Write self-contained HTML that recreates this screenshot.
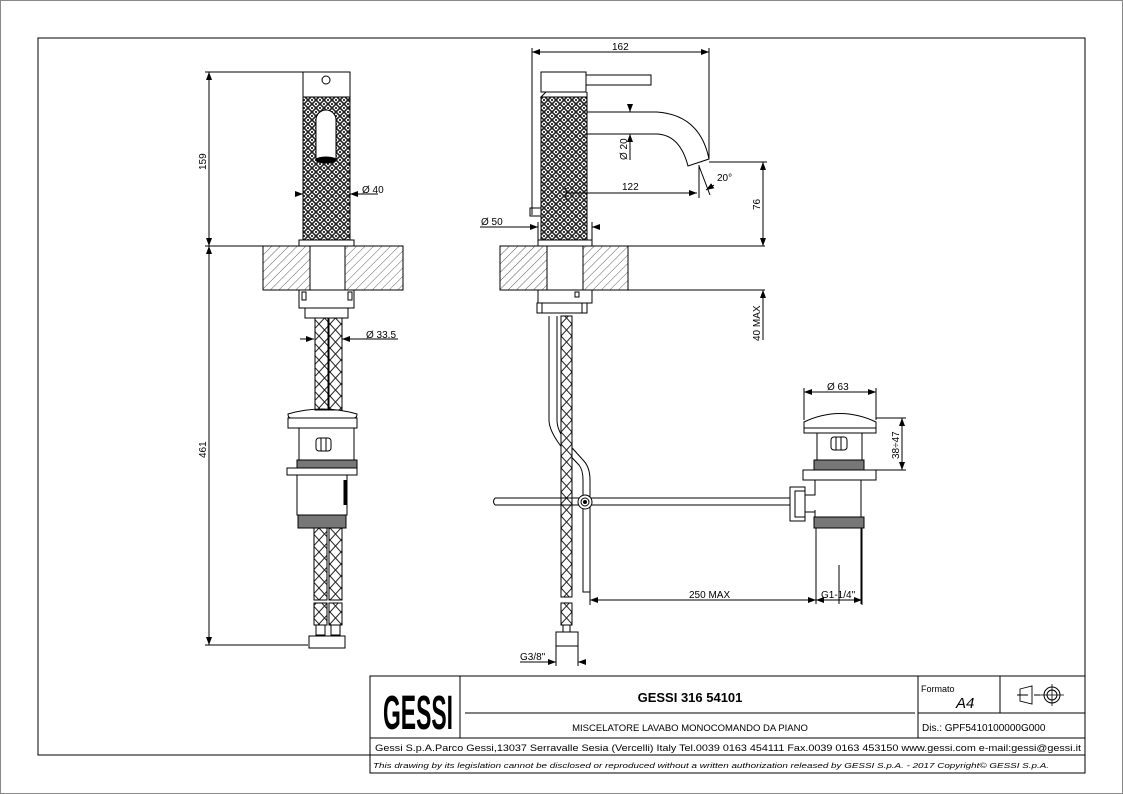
<!DOCTYPE html>
<html><head><meta charset="utf-8"><style>
html,body{margin:0;padding:0;background:#fff;}
svg{display:block;font-family:"Liberation Sans",sans-serif;}
</style></head><body>
<svg width="1123" height="794" viewBox="0 0 1123 794" xmlns="http://www.w3.org/2000/svg">
<defs>
<pattern id="knurl" width="8" height="8" patternUnits="userSpaceOnUse">
<rect width="8" height="8" fill="#fff"/>
<path d="M0 0 L8 8 M8 0 L0 8 M-1 7 L1 9 M7 -1 L9 1" stroke="#222" stroke-width="1.6"/>
<circle cx="4" cy="0" r="1.1" fill="#222"/><circle cx="4" cy="8" r="1.1" fill="#222"/>
<circle cx="0" cy="4" r="1.1" fill="#222"/><circle cx="8" cy="4" r="1.1" fill="#222"/>
</pattern>
<pattern id="hatch" width="6" height="6" patternUnits="userSpaceOnUse" patternTransform="rotate(45)">
<rect width="6" height="6" fill="#fff"/><line x1="0" y1="0" x2="0" y2="6" stroke="#333" stroke-width="0.8"/>
</pattern>
<pattern id="braid" width="11" height="12" patternUnits="userSpaceOnUse">
<rect width="11" height="12" fill="#fff"/><path d="M0 0 L11 12 M11 0 L0 12" stroke="#222" stroke-width="1"/>
</pattern>
<marker id="ar" markerWidth="8" markerHeight="6" refX="8" refY="3" orient="auto-start-reverse" markerUnits="userSpaceOnUse"><path d="M0 0 L8 3 L0 6Z" fill="#000"/></marker>
</defs>
<g fill="none" stroke="#000" stroke-width="1">
<rect x="0.5" y="0.5" width="1122" height="793" stroke="#888"/>
<polyline points="370,755 38,755 38,38 1085,38 1085,773 370,773 370,676 1085,676"/>
<line x1="370" y1="738" x2="1085" y2="738"/>
<line x1="370" y1="755" x2="1085" y2="755"/>
<line x1="460" y1="676" x2="460" y2="738"/>
<line x1="918" y1="676" x2="918" y2="738"/>
<line x1="1000" y1="676" x2="1000" y2="713"/>
<line x1="918" y1="713" x2="1085" y2="713"/>
<line x1="465" y1="713" x2="915" y2="713"/>
<path d="M1017 695 H1028 M1020 689 L1032 686 V704 L1020 701Z M1034 695 H1040" stroke-width="0.9"/>
<circle cx="1052" cy="695" r="8"/><circle cx="1052" cy="695" r="5"/>
<path d="M1040 695 H1064 M1052 684 V706" stroke-width="0.8"/>

<!-- LEFT VIEW -->
<rect x="303" y="72" width="47" height="25"/>
<circle cx="326" cy="80" r="4"/>
<rect x="303" y="97" width="47" height="143" fill="url(#knurl)"/>
<path d="M316 160 V120 a10 10 0 0 1 20 0 V160" fill="#fff"/>
<ellipse cx="326" cy="160" rx="10" ry="3" fill="#000"/>
<rect x="299" y="240" width="55" height="6"/>
<rect x="263" y="246" width="47" height="44" fill="url(#hatch)"/>
<rect x="345" y="246" width="58" height="44" fill="url(#hatch)"/>
<rect x="310" y="246" width="35" height="44"/>
<rect x="299" y="290" width="55" height="18"/>
<rect x="305" y="308" width="43" height="10"/>
<rect x="302" y="292" width="4" height="8"/><rect x="348" y="292" width="4" height="8"/>
<rect x="315" y="318" width="13" height="92" fill="url(#braid)"/>
<rect x="329" y="318" width="13" height="92" fill="url(#braid)"/>
<path d="M288 414 Q322 404 357 414 Q357 418 354 418 H291 Q288 418 288 414Z"/>
<rect x="288" y="418" width="69" height="10"/>
<rect x="299" y="428" width="55" height="32"/>
<rect x="316" y="438" width="15" height="13" rx="3"/><line x1="321" y1="438" x2="321" y2="451"/><line x1="326" y1="438" x2="326" y2="451"/>
<rect x="297" y="460" width="60" height="8" fill="#777"/>
<rect x="287" y="468" width="70" height="7"/>
<rect x="297" y="475" width="50" height="40"/>
<path d="M345 480 V505" stroke-width="3"/>
<rect x="298" y="515" width="48" height="13" fill="#777"/>
<rect x="314" y="528" width="13" height="72" fill="url(#braid)"/>
<rect x="329" y="528" width="13" height="72" fill="url(#braid)"/>
<rect x="314" y="603" width="13" height="22" fill="url(#braid)"/>
<rect x="329" y="603" width="13" height="22" fill="url(#braid)"/>
<rect x="316" y="625" width="9" height="10"/><rect x="331" y="625" width="9" height="10"/>
<rect x="309" y="636" width="36" height="12"/>
<line x1="205" y1="72" x2="303" y2="72"/>
<line x1="205" y1="246" x2="263" y2="246"/>
<line x1="205" y1="645" x2="308" y2="645"/>
<line x1="209" y1="72" x2="209" y2="246" marker-start="url(#ar)" marker-end="url(#ar)"/>
<line x1="209" y1="246" x2="209" y2="645" marker-start="url(#ar)" marker-end="url(#ar)"/>
<line x1="297" y1="194" x2="303" y2="194" marker-end="url(#ar)"/>
<line x1="350" y1="194" x2="378" y2="194" marker-start="url(#ar)"/>
<line x1="300" y1="339" x2="314" y2="339" marker-end="url(#ar)"/>
<line x1="342" y1="339" x2="398" y2="339" marker-start="url(#ar)"/>

<!-- RIGHT VIEW -->
<rect x="541" y="72" width="45" height="20"/>
<rect x="586" y="75" width="65" height="10"/>
<path d="M546 92 L541 97 H587 V92"/>
<rect x="541" y="97" width="46" height="143" fill="url(#knurl)"/>
<path d="M587 112 H657 Q700 115 709 159 L688 166 Q680 135 657 134 H587"/>
<line x1="532" y1="72" x2="532" y2="215"/><rect x="530" y="208" width="11" height="8"/>
<rect x="538" y="240" width="54" height="6"/>
<rect x="500" y="246" width="47" height="44" fill="url(#hatch)"/>
<rect x="583" y="246" width="45" height="44" fill="url(#hatch)"/>
<rect x="547" y="246" width="36" height="44"/>
<line x1="628" y1="246" x2="765" y2="246"/>
<line x1="628" y1="290" x2="765" y2="290"/>
<rect x="538" y="290" width="54" height="13"/>
<rect x="575" y="292" width="4" height="5"/>
<rect x="542" y="303" width="40" height="10"/>
<rect x="537" y="303" width="5" height="10"/><rect x="582" y="303" width="5" height="10"/>
<path d="M549 316 V420 Q549 430 560 445 L579 465 Q583 470 583 480 V592 H590 V480 Q590 467 583 460 L565 440 Q557 430 557 420 V316"/>
<rect x="561" y="316" width="11" height="281" fill="url(#braid)"/>
<rect x="561" y="603" width="11" height="22" fill="url(#braid)"/>
<rect x="563" y="625" width="7" height="7"/>
<rect x="556" y="632" width="22" height="14"/>
<path d="M495 498 H790 M495 505 H790 M495 498 Q492 501.5 495 505"/>
<circle cx="585" cy="502" r="7" fill="#fff"/><circle cx="585" cy="502" r="4"/><circle cx="585" cy="502" r="1.5" fill="#000"/>
<rect x="790" y="487" width="15" height="34"/>
<rect x="795" y="491" width="10" height="26"/>
<path d="M804 422 Q840 405 876 422 V428 H804Z"/>
<rect x="804" y="428" width="72" height="5"/>
<rect x="817" y="433" width="45" height="27"/>
<rect x="831" y="437" width="16" height="13" rx="3"/><line x1="836" y1="437" x2="836" y2="450"/><line x1="841" y1="437" x2="841" y2="450"/>
<rect x="814" y="460" width="50" height="10" fill="#777"/>
<rect x="803" y="470" width="73" height="10"/>
<path d="M815 480 V495 H805 M861 480 V517 M815 510 V517 M805 512 H815"/>
<rect x="814" y="517" width="50" height="11" fill="#777"/>
<path d="M816 528 V604 M861 528 V604 M839 565 V604"/>
<line x1="532" y1="72" x2="532" y2="48"/>
<line x1="709" y1="159" x2="709" y2="48"/>
<line x1="532" y1="52" x2="709" y2="52" marker-start="url(#ar)" marker-end="url(#ar)"/>
<line x1="630" y1="104" x2="630" y2="112" marker-end="url(#ar)"/>
<line x1="630" y1="134" x2="630" y2="160" marker-start="url(#ar)"/>
<line x1="587" y1="193" x2="697" y2="193" marker-end="url(#ar)"/>
<line x1="566" y1="193" x2="587" y2="193"/>
<line x1="566" y1="188" x2="566" y2="200"/>
<line x1="699" y1="165" x2="699" y2="198"/>
<line x1="699" y1="166" x2="710" y2="195"/>
<line x1="714" y1="185" x2="706" y2="190" marker-end="url(#ar)"/>
<line x1="709" y1="162" x2="767" y2="162"/>
<line x1="763" y1="162" x2="763" y2="246" marker-start="url(#ar)" marker-end="url(#ar)"/>
<line x1="763" y1="290" x2="763" y2="340" marker-start="url(#ar)"/>
<line x1="480" y1="227" x2="530" y2="227"/>
<line x1="530" y1="227" x2="538" y2="227" marker-end="url(#ar)"/>
<line x1="592" y1="227" x2="600" y2="227" marker-start="url(#ar)"/>
<line x1="538" y1="222" x2="538" y2="240"/><line x1="592" y1="222" x2="592" y2="240"/>
<line x1="804" y1="388" x2="804" y2="420"/><line x1="876" y1="388" x2="876" y2="420"/>
<line x1="804" y1="392" x2="876" y2="392" marker-start="url(#ar)" marker-end="url(#ar)"/>
<line x1="876" y1="418" x2="906" y2="418"/><line x1="876" y1="470" x2="906" y2="470"/>
<line x1="902" y1="418" x2="902" y2="470" marker-start="url(#ar)" marker-end="url(#ar)"/>
<line x1="590" y1="592" x2="590" y2="605"/>
<line x1="590" y1="600" x2="816" y2="600" marker-start="url(#ar)" marker-end="url(#ar)"/>
<line x1="839" y1="600" x2="862" y2="600" marker-end="url(#ar)"/>
<line x1="839" y1="600" x2="816" y2="600" marker-end="url(#ar)"/>
<line x1="862" y1="528" x2="862" y2="605"/>
<line x1="520" y1="662" x2="556" y2="662" marker-end="url(#ar)"/>
<line x1="578" y1="662" x2="586" y2="662" marker-start="url(#ar)"/>
<line x1="556" y1="646" x2="556" y2="666"/><line x1="578" y1="646" x2="578" y2="666"/>
</g>
<g fill="#000" font-size="10">
<text x="362" y="193">Ø 40</text>
<text x="366" y="338">Ø 33.5</text>
<text x="206" y="170" transform="rotate(-90 206 170)">159</text>
<text x="206" y="458" transform="rotate(-90 206 458)">461</text>
<text x="612" y="50">162</text>
<text x="627" y="160" transform="rotate(-90 627 160)">Ø 20</text>
<text x="622" y="190">122</text>
<text x="717" y="181">20°</text>
<text x="760" y="210" transform="rotate(-90 760 210)">76</text>
<text x="760" y="341" transform="rotate(-90 760 341)">40 MAX</text>
<text x="481" y="225">Ø 50</text>
<text x="827" y="390">Ø 63</text>
<text x="899" y="459" transform="rotate(-90 899 459)">38÷47</text>
<text x="689" y="598">250 MAX</text>
<text x="821" y="598">G1-1/4"</text>
<text x="520" y="660">G3/8"</text>
</g>
<g fill="#000">
<text x="0" y="0" font-size="30" font-weight="bold" textLength="70" lengthAdjust="spacingAndGlyphs" transform="translate(383 729) scale(1 1.6)">GESSI</text>
<text x="690" y="702" font-size="13" font-weight="bold" text-anchor="middle">GESSI 316 54101</text>
<text x="690" y="731" font-size="9.5" text-anchor="middle">MISCELATORE LAVABO MONOCOMANDO DA PIANO</text>
<text x="921" y="692" font-size="9">Formato</text>
<text x="956" y="708" font-size="15" font-style="italic">A4</text>
<text x="922" y="731" font-size="10">Dis.: GPF5410100000G000</text>
<text x="375" y="751" font-size="9.5" textLength="706" lengthAdjust="spacingAndGlyphs">Gessi S.p.A.Parco Gessi,13037 Serravalle Sesia (Vercelli) Italy Tel.0039 0163 454111 Fax.0039 0163 453150 www.gessi.com e-mail:gessi@gessi.it</text>
<text x="373" y="768" font-size="7.5" font-style="italic" textLength="676" lengthAdjust="spacingAndGlyphs">This drawing by its legislation cannot be disclosed or reproduced without a written authorization released by GESSI S.p.A. - 2017 Copyright© GESSI S.p.A.</text>
</g>
</svg>
</body></html>
